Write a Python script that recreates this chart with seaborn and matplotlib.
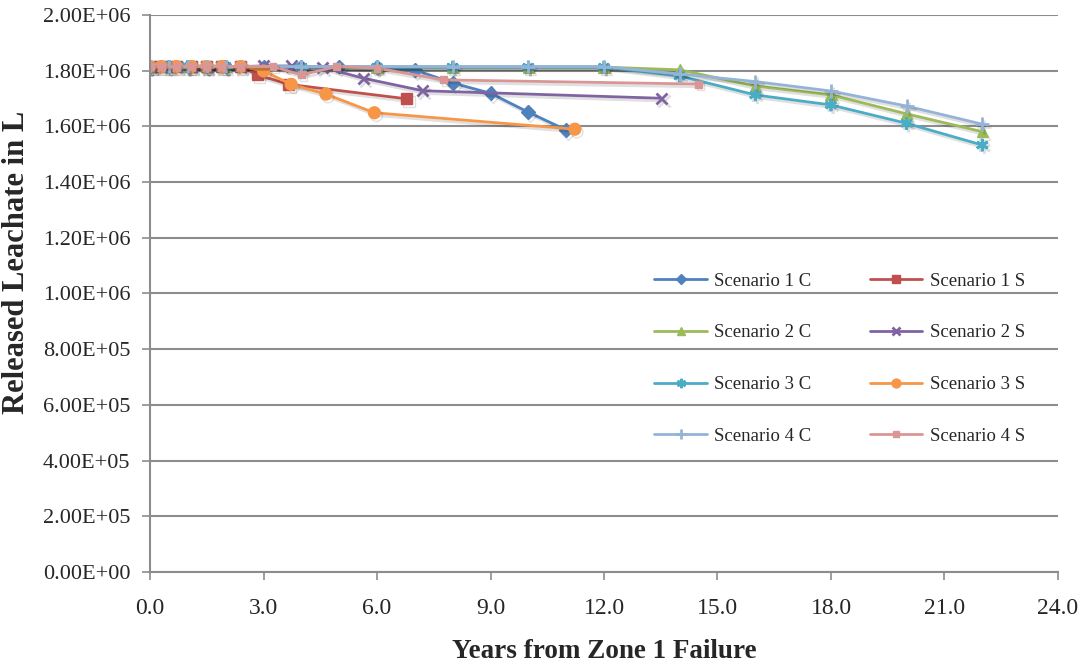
import matplotlib
matplotlib.use("Agg")
import matplotlib.pyplot as plt
import matplotlib.patheffects as pe
from matplotlib.ticker import FuncFormatter, MultipleLocator
import seaborn as sns
import pandas as pd

# Years since Zone 1 failure and released leachate volume (L) per scenario
years_1c = [0.0, 0.5, 1.0, 1.5, 2.0, 3.0, 4.0, 5.0, 6.0, 7.0, 8.0, 9.0, 10.0, 11.0]
leach_1c = [1.815e6, 1.815e6, 1.815e6, 1.815e6, 1.815e6, 1.815e6, 1.815e6, 1.815e6,
            1.812e6, 1.803e6, 1.756e6, 1.719e6, 1.651e6, 1.587e6]

years_1s = [0.0, 0.3, 0.7, 1.1, 1.5, 1.9, 2.4, 2.84, 3.66, 6.79]
leach_1s = [1.815e6, 1.815e6, 1.815e6, 1.815e6, 1.815e6, 1.815e6, 1.815e6,
            1.785e6, 1.751e6, 1.699e6]

years_2c = [0.0, 0.5, 1.0, 1.5, 2.0, 4.0, 6.0, 8.0, 10.0, 12.0, 14.0, 16.0, 18.0, 20.0, 22.0]
leach_2c = [1.815e6, 1.815e6, 1.815e6, 1.815e6, 1.815e6, 1.813e6, 1.813e6, 1.813e6,
            1.813e6, 1.813e6, 1.803e6, 1.745e6, 1.713e6, 1.645e6, 1.581e6]

years_2s = [0.0, 0.3, 0.7, 1.1, 1.5, 1.9, 2.4, 3.0, 3.73, 4.56, 5.64, 7.21, 13.53]
leach_2s = [1.815e6, 1.815e6, 1.815e6, 1.815e6, 1.815e6, 1.815e6, 1.815e6,
            1.817e6, 1.817e6, 1.812e6, 1.773e6, 1.728e6, 1.701e6]

years_3c = [0.0, 0.5, 1.0, 1.5, 2.0, 4.0, 6.0, 8.0, 10.0, 12.0, 14.0, 16.0, 18.0, 20.0, 22.0]
leach_3c = [1.815e6, 1.815e6, 1.815e6, 1.815e6, 1.815e6, 1.813e6, 1.813e6, 1.813e6,
            1.813e6, 1.813e6, 1.781e6, 1.713e6, 1.677e6, 1.611e6, 1.533e6]

years_3s = [0.0, 0.3, 0.7, 1.1, 1.5, 1.9, 2.4, 3.0, 3.73, 4.65, 5.93, 11.23]
leach_3s = [1.815e6, 1.815e6, 1.815e6, 1.815e6, 1.815e6, 1.815e6, 1.815e6,
            1.799e6, 1.751e6, 1.716e6, 1.649e6, 1.590e6]

years_4c = [0.0, 0.5, 1.0, 1.5, 2.0, 4.0, 6.0, 8.0, 10.0, 12.0, 14.0, 16.0, 18.0, 20.0, 22.0]
leach_4c = [1.815e6, 1.815e6, 1.815e6, 1.815e6, 1.815e6, 1.815e6, 1.815e6, 1.815e6,
            1.815e6, 1.815e6, 1.788e6, 1.761e6, 1.727e6, 1.673e6, 1.608e6]

years_4s = [0.0, 0.3, 0.7, 1.1, 1.5, 1.9, 2.4, 3.25, 4.0, 4.94, 6.0, 7.76, 14.5]
leach_4s = [1.815e6, 1.815e6, 1.815e6, 1.815e6, 1.815e6, 1.815e6, 1.815e6,
            1.815e6, 1.785e6, 1.815e6, 1.809e6, 1.767e6, 1.752e6]

labels = ["Scenario 1 C", "Scenario 1 S", "Scenario 2 C", "Scenario 2 S",
          "Scenario 3 C", "Scenario 3 S", "Scenario 4 C", "Scenario 4 S"]
x_data = [years_1c, years_1s, years_2c, years_2s, years_3c, years_3s, years_4c, years_4s]
y_data = [leach_1c, leach_1s, leach_2c, leach_2s, leach_3c, leach_3s, leach_4c, leach_4s]

colors = ["#4F81BD", "#C0504D", "#9BBB59", "#8064A2",
          "#4BACC6", "#F79646", "#95B3D7", "#D99694"]
markers = ["D", "s", "^", "x", (6, 2, 0), "o", "+", "s"]
msizes = [7, 8, 8, 8, 9, 8.5, 10, 5]
medges = [1.0, 1.0, 1.0, 2.0, 2.0, 1.0, 2.0, 1.0]

sns.set_style("white")
plt.rcParams["font.family"] = ["Liberation Serif", "DejaVu Serif"]

fig = plt.figure(figsize=(10.88, 6.64), dpi=100)
ax = fig.add_axes([0.1379, 0.1386, 0.8345, 0.8388])

# soft drop shadow under each series
shadow = [pe.SimpleLineShadow(offset=(1.5, -2), alpha=0.12, shadow_color="black"),
          pe.Normal()]

for lab, xs, ys, c, m, ms, mew in zip(labels, x_data, y_data, colors, markers, msizes, medges):
    df = pd.DataFrame({"year": xs, "leachate": ys})
    sns.lineplot(data=df, x="year", y="leachate", ax=ax, color=c, marker=m,
                 markersize=ms, markeredgewidth=mew, markeredgecolor=c,
                 linewidth=2.0, label=lab, sort=False, estimator=None)
    ax.lines[-1].set_path_effects(shadow)

ax.set_xlim(0, 24)
ax.set_ylim(0, 2.0e6)
ax.xaxis.set_major_locator(MultipleLocator(3))
ax.yaxis.set_major_locator(MultipleLocator(2e5))
ax.xaxis.set_major_formatter(FuncFormatter(lambda v, p: f"{v:.1f}"))
ax.yaxis.set_major_formatter(FuncFormatter(lambda v, p: f"{v:.2E}"))

ax.yaxis.grid(True, color="#8C8C8C", linewidth=1.5)
ax.xaxis.grid(False)
ax.set_axisbelow(True)
for side in ["top", "right"]:
    ax.spines[side].set_visible(False)
for side in ["left", "bottom"]:
    ax.spines[side].set_color("#8C8C8C")
    ax.spines[side].set_linewidth(1.5)

ax.tick_params(axis="y", which="major", direction="out", length=6, width=1.2,
               color="#8C8C8C", labelsize=16, pad=8, left=True)
ax.tick_params(axis="x", which="major", direction="out", length=6, width=1.2,
               color="#8C8C8C", labelsize=17, pad=13, bottom=True)

ax.set_xlabel("Years from Zone 1 Failure", fontsize=19.5, fontweight="bold", labelpad=14)
ax.set_ylabel("Released Leachate in L", fontsize=22, fontweight="bold")
ax.yaxis.set_label_coords(-0.131, 0.555)

# legend laid out row by row: C and S of each scenario side by side
handles, labs = ax.get_legend_handles_labels()
order = [0, 2, 4, 6, 1, 3, 5, 7]
leg = ax.legend([handles[i] for i in order], [labs[i] for i in order],
                ncol=2, loc="upper left", bbox_to_anchor=(0.537, 0.568),
                frameon=False, fontsize=13.5, handlelength=2.8, handletextpad=0.4,
                columnspacing=3.1, labelspacing=1.85, markerscale=0.75)
for h in leg.legend_handles:
    h.set_path_effects([])

fig.savefig("out.png", dpi=100)
